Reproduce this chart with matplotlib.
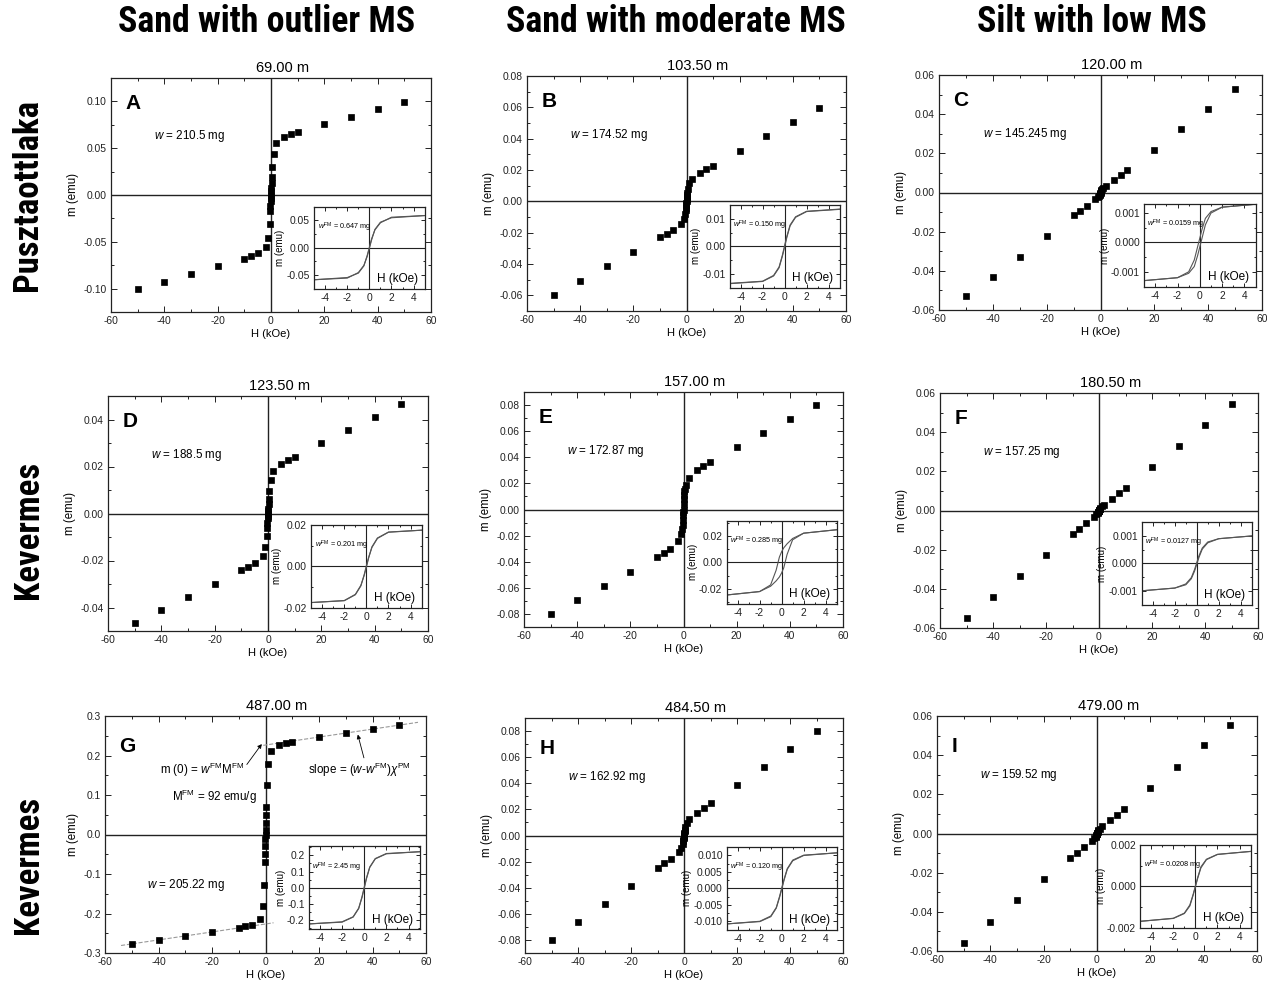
import matplotlib
matplotlib.use('Agg')
import matplotlib.pyplot as plt
from matplotlib import font_manager
from matplotlib.ticker import MultipleLocator, FixedLocator, FuncFormatter

plt.rcParams['font.family'] = ['Liberation Sans', 'DejaVu Sans']
plt.rcParams['axes.unicode_minus'] = False
plt.rcParams['mathtext.fontset'] = 'custom'
plt.rcParams['mathtext.rm'] = 'Liberation Sans'
plt.rcParams['mathtext.it'] = 'Liberation Sans:italic'
plt.rcParams['mathtext.bf'] = 'Liberation Sans:bold'

# ---- data ----
col_titles = ['Sand with outlier MS', 'Sand with moderate MS', 'Silt with low MS']
row_titles = ['Pusztaottlaka', 'Kevermes', 'Kevermes']
letters = ['A', 'B', 'C', 'D', 'E', 'F', 'G', 'H', 'I']
depths = ['69.00 m', '103.50 m', '120.00 m', '123.50 m', '157.00 m', '180.50 m',
          '487.00 m', '484.50 m', '479.00 m']
weights = ['210.5', '174.52', '145.245', '188.5', '172.87', '157.25', '205.22', '162.92', '159.52']
w_fm = ['0.647', '0.150', '0.0159', '0.201', '0.285', '0.0127', '2.45', '0.120', '0.0208']

# applied field (kOe) of the measured points
H_main = [-50, -40, -30, -20, -10, -7.5, -5, -2, -1, -0.5, -0.3, -0.2, -0.1, -0.05, 0,
          0.05, 0.1, 0.2, 0.3, 0.5, 1, 2, 5, 7.5, 10, 20, 30, 40, 50]

m_A = [-0.1007, -0.0926, -0.0844, -0.0762, -0.068, -0.065, -0.0624, -0.056, -0.0457, -0.0305,
       -0.017, -0.012, -0.006, -0.003, 0.000, 0.004, 0.008, 0.013, 0.019, 0.030,
       0.044, 0.0553, 0.0624, 0.0652, 0.067, 0.0755, 0.0835, 0.092, 0.0997]
m_B = [-0.060, -0.0506, -0.0415, -0.0321, -0.023, -0.0206, -0.018, -0.0143, -0.0115, -0.008,
       -0.0055, -0.004, -0.0025, -0.0012, 0.0, 0.0012, 0.0025, 0.004, 0.0055, 0.008,
       0.0115, 0.0143, 0.0179, 0.0204, 0.0228, 0.0323, 0.0415, 0.0506, 0.0598]
m_C = [-0.053, -0.043, -0.033, -0.022, -0.0117, -0.0094, -0.0067, -0.0034, -0.0023, -0.0016,
       -0.0012, -0.0009, -0.0006, -0.0003, 0.0, 0.0003, 0.0006, 0.0009, 0.0012, 0.0016,
       0.0023, 0.0032, 0.0065, 0.009, 0.0116, 0.0218, 0.0322, 0.0426, 0.0528]
m_D = [-0.0468, -0.0411, -0.0355, -0.0298, -0.024, -0.0226, -0.0209, -0.018, -0.0141, -0.0095,
       -0.006, -0.004, -0.002, -0.001, 0.0, 0.001, 0.002, 0.004, 0.006, 0.0096,
       0.0144, 0.018, 0.021, 0.0226, 0.0239, 0.0298, 0.0355, 0.0411, 0.0468]
m_E = [-0.080, -0.0696, -0.0589, -0.0482, -0.0367, -0.0336, -0.030, -0.0242, -0.0186, -0.015,
       -0.012, -0.008, -0.004, -0.002, 0.0, 0.004, 0.008, 0.011, 0.014, 0.016,
       0.019, 0.024, 0.030, 0.0334, 0.0364, 0.0476, 0.0583, 0.069, 0.080]
m_F = [-0.0549, -0.0443, -0.0336, -0.0228, -0.0121, -0.0094, -0.0066, -0.0032, -0.0020, -0.0013,
       -0.0009, -0.0006, -0.0003, -0.0001, 0.0, 0.0002, 0.0004, 0.0007, 0.001, 0.0014,
       0.0021, 0.0029, 0.0061, 0.0087, 0.0114, 0.0222, 0.0329, 0.0438, 0.0542]
m_G = [-0.278, -0.268, -0.258, -0.246, -0.236, -0.232, -0.228, -0.213, -0.180, -0.128,
       -0.07, -0.05, -0.03, -0.012, 0.0, 0.012, 0.03, 0.05, 0.07, 0.125,
       0.178, 0.212, 0.227, 0.231, 0.235, 0.247, 0.257, 0.267, 0.277]
m_H = [-0.080, -0.0662, -0.0523, -0.0387, -0.0249, -0.0213, -0.0177, -0.0128, -0.0098, -0.0068,
       -0.0045, -0.0032, -0.0018, -0.0008, 0.0, 0.0008, 0.0018, 0.0032, 0.0045, 0.0068,
       0.0098, 0.0128, 0.0174, 0.021, 0.0246, 0.0385, 0.0523, 0.0662, 0.080]
m_I = [-0.0559, -0.045, -0.0342, -0.0234, -0.0127, -0.0099, -0.0071, -0.0037, -0.0025, -0.0017,
       -0.0012, -0.0008, -0.0004, -0.0002, 0.0, 0.0002, 0.0004, 0.0008, 0.0012, 0.0017,
       0.0025, 0.0039, 0.0071, 0.0097, 0.0124, 0.0234, 0.0342, 0.045, 0.0556]

# inset: ferromagnetic loop (descending / ascending branch)
H_ins = [-5, -2, -1, -0.5, -0.2, 0, 0.2, 0.5, 1, 2, 5]
fm_A_dn = [-0.058, -0.054, -0.046, -0.033, -0.014, 0.001, 0.016, 0.032, 0.045, 0.055, 0.058]
fm_A_up = [-0.058, -0.055, -0.045, -0.032, -0.016, -0.001, 0.014, 0.033, 0.046, 0.054, 0.058]
fm_B_dn = [-0.0135, -0.0127, -0.0106, -0.0075, -0.0032, 0.0003, 0.0036, 0.0078, 0.0108, 0.0128, 0.0136]
fm_B_up = [-0.0136, -0.0128, -0.0108, -0.0078, -0.0036, -0.0003, 0.0032, 0.0075, 0.0106, 0.0127, 0.0135]
fm_C_dn = [-0.0013, -0.0012, -0.0010, -0.0006, -0.00015, 0.00015, 0.00045, 0.00082, 0.00105, 0.0012, 0.0013]
fm_C_up = [-0.0013, -0.0012, -0.00105, -0.00082, -0.00045, -0.00015, 0.00015, 0.0006, 0.0010, 0.0012, 0.0013]
fm_D_dn = [-0.0176, -0.0167, -0.0138, -0.0095, -0.0040, 0.0004, 0.0044, 0.0092, 0.0136, 0.0166, 0.0176]
fm_D_up = [-0.0176, -0.0166, -0.0136, -0.0092, -0.0044, -0.0004, 0.0040, 0.0095, 0.0138, 0.0167, 0.0176]
fm_E_dn = [-0.0246, -0.0220, -0.0170, -0.0060, 0.0040, 0.0080, 0.0110, 0.0140, 0.0180, 0.0220, 0.0246]
fm_E_up = [-0.0246, -0.0220, -0.0180, -0.0140, -0.0110, -0.0080, -0.0040, 0.0060, 0.0170, 0.0220, 0.0246]
fm_F_dn = [-0.0010, -0.0009, -0.00075, -0.00052, -0.00022, 0.00003, 0.00028, 0.00056, 0.00078, 0.0009, 0.0010]
fm_F_up = [-0.0010, -0.0009, -0.00078, -0.00056, -0.00028, -0.00003, 0.00022, 0.00052, 0.00075, 0.0009, 0.0010]
fm_G_dn = [-0.222, -0.209, -0.178, -0.125, -0.055, 0.004, 0.060, 0.128, 0.180, 0.211, 0.222]
fm_G_up = [-0.222, -0.211, -0.180, -0.128, -0.060, -0.004, 0.055, 0.125, 0.178, 0.209, 0.222]
fm_H_dn = [-0.0108, -0.0100, -0.0084, -0.0058, -0.0024, 0.0002, 0.0027, 0.0060, 0.0086, 0.0101, 0.0108]
fm_H_up = [-0.0108, -0.0101, -0.0086, -0.0060, -0.0027, -0.0002, 0.0024, 0.0058, 0.0084, 0.0100, 0.0108]
fm_I_dn = [-0.0017, -0.00155, -0.0013, -0.0009, -0.00038, 0.00002, 0.00042, 0.00095, 0.00132, 0.00156, 0.0017]
fm_I_up = [-0.0017, -0.00156, -0.00132, -0.00095, -0.00042, -0.00002, 0.00038, 0.0009, 0.0013, 0.00155, 0.0017]

# high-field linear fit shown in panel G
fit_up_H = [-3, 57]
fit_up_m = [0.2235, 0.284]
fit_dn_H = [-54, 3]
fit_dn_m = [-0.281, -0.2235]

# ---- axis settings ----
main_ylim = [(-0.125, 0.125), (-0.07, 0.08), (-0.06, 0.06), (-0.05, 0.05), (-0.09, 0.09),
             (-0.06, 0.06), (-0.3, 0.3), (-0.09, 0.09), (-0.06, 0.06)]
main_ystep = [0.05, 0.02, 0.02, 0.02, 0.02, 0.02, 0.1, 0.02, 0.02]
main_yfmt = ['%.2f'] * 6 + ['%.1f', '%.2f', '%.2f']
ins_ylim = [(-0.074, 0.074), (-0.015, 0.015), (-0.0015, 0.0013), (-0.02, 0.02), (-0.031, 0.031),
            (-0.0015, 0.0015), (-0.255, 0.255), (-0.0125, 0.0125), (-0.002, 0.002)]
ins_yticks = [[-0.05, 0, 0.05], [-0.01, 0, 0.01], [-0.001, 0, 0.001], [-0.02, 0, 0.02],
              [-0.02, 0, 0.02], [-0.001, 0, 0.001], [-0.2, -0.1, 0, 0.1, 0.2],
              [-0.01, -0.005, 0, 0.005, 0.01], [-0.002, 0, 0.002]]
ins_yfmt = ['%.2f', '%.2f', '%.3f', '%.2f', '%.2f', '%.3f', '%.1f', '%.3f', '%.3f']

m_all = [m_A, m_B, m_C, m_D, m_E, m_F, m_G, m_H, m_I]
fm_dn = [fm_A_dn, fm_B_dn, fm_C_dn, fm_D_dn, fm_E_dn, fm_F_dn, fm_G_dn, fm_H_dn, fm_I_dn]
fm_up = [fm_A_up, fm_B_up, fm_C_up, fm_D_up, fm_E_up, fm_F_up, fm_G_up, fm_H_up, fm_I_up]

# panel boxes in pixels: left, top, right, bottom
boxes = [(111, 78, 431, 312), (527, 76, 846, 311), (939, 75, 1262, 310),
         (108, 396, 428, 631), (524, 392, 843, 627), (940, 393, 1258, 628),
         (105, 716, 426, 953), (525, 718, 843, 953), (937, 716, 1257, 951)]

W, Hpx = 1267, 992
fig = plt.figure(figsize=(W / 100, Hpx / 100), dpi=100)


def fmt_func(f):
    return FuncFormatter(lambda v, p: f % (0.0 if abs(v) < 1e-12 else v))


def style(ax, size, major, minor):
    ax.tick_params(which='both', direction='in', top=True, right=True, labelsize=size,
                   width=0.7, colors='#222222', pad=3)
    ax.tick_params(which='major', length=major)
    ax.tick_params(which='minor', length=minor)
    for s in ax.spines.values():
        s.set_linewidth(0.9)
        s.set_color('#222222')


for i in range(9):
    l, t, r, b = boxes[i]
    ax = fig.add_axes([l / W, 1 - b / Hpx, (r - l) / W, (b - t) / Hpx])
    ax.axhline(0, color='#222222', lw=1.0, zorder=1)
    ax.axvline(0, color='#222222', lw=1.0, zorder=1)
    ax.plot(H_main, m_all[i], 's', color='black', ms=4.6, mew=0.5, zorder=3)
    ax.set_xlim(-60, 60)
    ax.set_ylim(*main_ylim[i])
    ax.xaxis.set_major_locator(MultipleLocator(20))
    ax.xaxis.set_minor_locator(MultipleLocator(10))
    ax.xaxis.set_major_formatter(fmt_func('%d'))
    ax.yaxis.set_major_locator(MultipleLocator(main_ystep[i]))
    ax.yaxis.set_minor_locator(MultipleLocator(main_ystep[i] / 2))
    ax.yaxis.set_major_formatter(fmt_func(main_yfmt[i]))
    style(ax, 7.4, 4, 2)
    ax.set_xlabel('H (kOe)', fontsize=8, labelpad=2)
    ax.set_ylabel('m (emu)', fontsize=8.3, labelpad=3)
    ax.text(0.535, 1.012, depths[i], transform=ax.transAxes, ha='center', va='bottom', fontsize=10.5)
    ly = 0.93 if i < 6 else 0.91
    ax.text(0.045, ly, letters[i], transform=ax.transAxes, ha='left', va='top',
            fontsize=15, fontweight='bold')
    if i != 6:
        ax.text(0.135, 0.75, r'$\it{w}$ = ' + weights[i] + ' mg', transform=ax.transAxes,
                ha='left', va='center', fontsize=8.4)
    else:
        ax.text(0.13, 0.287, r'$\it{w}$ = ' + weights[i] + ' mg', transform=ax.transAxes,
                ha='left', va='center', fontsize=8.4)
        ax.plot(fit_up_H, fit_up_m, '--', color='#999999', lw=0.8, zorder=2)
        ax.plot(fit_dn_H, fit_dn_m, '--', color='#999999', lw=0.8, zorder=2)
        ax.annotate(r'm (0) = $\it{w}^{\rm FM}$M$^{\rm FM}$', xy=(-1.4, 0.229), xytext=(-39.5, 0.163),
                    fontsize=8.4, va='center', ha='left',
                    arrowprops=dict(arrowstyle='-|>', color='black', lw=0.6, mutation_scale=6,
                                    shrinkA=0, shrinkB=0, relpos=(1.0, 0.6)))
        ax.annotate(r'slope = ($\it{w}$-$\it{w}^{\rm FM}$)$\it{\chi}^{\rm PM}$', xy=(34.5, 0.253),
                    xytext=(16, 0.164), fontsize=8.4, va='center', ha='left',
                    arrowprops=dict(arrowstyle='-|>', color='black', lw=0.6, mutation_scale=6,
                                    shrinkA=0, shrinkB=0, relpos=(0.55, 1.0)))
        ax.text(-35, 0.095, r'M$^{\rm FM}$ = 92 emu/g', fontsize=8.4, va='center', ha='left')

    ins = ax.inset_axes([0.635, 0.10, 0.345, 0.35])
    ins.set_facecolor('white')
    ins.axhline(0, color='#222222', lw=0.8)
    ins.axvline(0, color='#222222', lw=0.8)
    ins.plot(H_ins, fm_dn[i], color='#555555', lw=0.8)
    ins.plot(H_ins, fm_up[i], color='#555555', lw=0.8)
    ins.set_xlim(-5, 5)
    ins.set_ylim(*ins_ylim[i])
    ins.xaxis.set_major_locator(MultipleLocator(2))
    ins.xaxis.set_minor_locator(MultipleLocator(1))
    ins.xaxis.set_major_formatter(fmt_func('%d'))
    yt = ins_yticks[i]
    ins.yaxis.set_major_locator(FixedLocator(yt))
    step = yt[1] - yt[0]
    minors = [v + step / 2 for v in yt[:-1]] + [yt[0] - step / 2, yt[-1] + step / 2]
    ins.yaxis.set_minor_locator(FixedLocator(minors))
    ins.yaxis.set_major_formatter(fmt_func(ins_yfmt[i]))
    style(ins, 7.4, 3, 1.5)
    ins.set_ylabel('m (emu)', fontsize=7, labelpad=1)
    ins.text(0.94, 0.04, 'H (kOe)', transform=ins.transAxes, ha='right', va='bottom', fontsize=8.5)
    ins.text(0.03, 0.75, r'$\it{w}^{\rm FM}$ = ' + w_fm[i] + ' mg', transform=ins.transAxes,
             ha='left', va='center', fontsize=5.2)

# column and row headers: narrow bold face if one is installed
fonts = font_manager.fontManager.ttflist
names = {f.name for f in fonts}
head_kw = dict(family=['Liberation Sans', 'DejaVu Sans'], fontsize=21.5)
row_size = 21.5
for cand in ['Liberation Sans Narrow', 'Roboto Condensed', 'Open Sans Condensed']:
    if cand in names:
        head_kw = dict(family=[cand, 'DejaVu Sans'], fontsize=25.8)
        row_size = 25.0
        break
else:
    if any(f.name == 'DejaVu Sans' and f.stretch == 'condensed' for f in fonts):
        head_kw = dict(family=['DejaVu Sans'], fontstretch='condensed', fontsize=23)
        row_size = 22.5

col_x = [267, 676, 1092]
for x, txt in zip(col_x, col_titles):
    fig.text(x / W, 1 - 22 / Hpx, txt, ha='center', va='center', fontweight='bold', **head_kw)
row_kw = dict(head_kw, fontsize=row_size)
row_y = [195, 530, 865]
for y, txt in zip(row_y, row_titles):
    fig.text(28 / W, 1 - y / Hpx, txt, ha='center', va='center', rotation=90,
             fontweight='bold', **row_kw)

fig.savefig('out.png', dpi=100)
